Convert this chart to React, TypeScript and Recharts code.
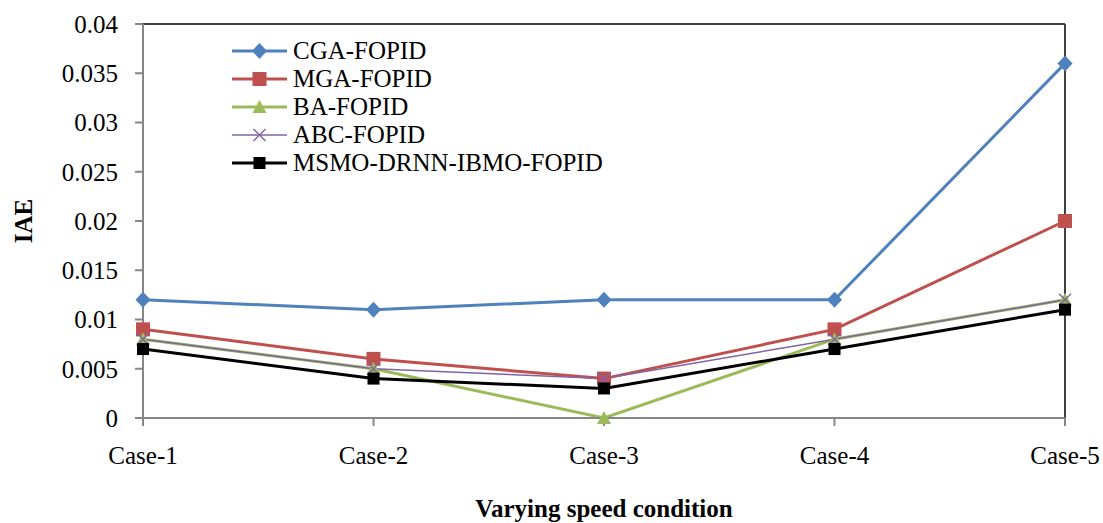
import React from "react";
import { LineChart, Line, XAxis, YAxis, Legend, Label, CartesianGrid } from "recharts";

// Speed-condition cases and IAE values per tuning method
const cases = ["Case-1", "Case-2", "Case-3", "Case-4", "Case-5"];
const cgaFopid = [0.012, 0.011, 0.012, 0.012, 0.036];
const mgaFopid = [0.009, 0.006, 0.004, 0.009, 0.02];
const baFopid = [0.008, 0.005, 0.0, 0.008, 0.012];
const abcFopid = [0.008, 0.005, 0.004, 0.008, 0.012];
const msmoFopid = [0.007, 0.004, 0.003, 0.007, 0.011];
const yTicks = [0, 0.005, 0.01, 0.015, 0.02, 0.025, 0.03, 0.035, 0.04];

const data = cases.map((c, i) => ({
  name: c,
  cga: cgaFopid[i],
  mga: mgaFopid[i],
  ba: baFopid[i],
  abc: abcFopid[i],
  msmo: msmoFopid[i],
}));

type Shape = "diamond" | "square" | "triangle" | "cross" | "smallSquare";

const series: { key: string; name: string; color: string; width: number; shape: Shape }[] = [
  { key: "cga", name: "CGA-FOPID", color: "#4F81BD", width: 3, shape: "diamond" },
  { key: "mga", name: "MGA-FOPID", color: "#C0504D", width: 3, shape: "square" },
  { key: "ba", name: "BA-FOPID", color: "#9BBB59", width: 3, shape: "triangle" },
  { key: "abc", name: "ABC-FOPID", color: "#8064A2", width: 1.5, shape: "cross" },
  { key: "msmo", name: "MSMO-DRNN-IBMO-FOPID", color: "#000000", width: 3, shape: "smallSquare" },
];

const FONT = "'Liberation Serif', 'Times New Roman', serif";

function Marker({ shape, color, cx, cy }: { shape: Shape; color: string; cx: number; cy: number }) {
  switch (shape) {
    case "diamond":
      return (
        <polygon
          points={`${cx},${cy - 8} ${cx + 7.5},${cy} ${cx},${cy + 8} ${cx - 7.5},${cy}`}
          fill={color}
        />
      );
    case "square":
      return <rect x={cx - 7} y={cy - 7} width={14} height={14} fill={color} />;
    case "triangle":
      return (
        <polygon
          points={`${cx},${cy - 7} ${cx + 7},${cy + 6} ${cx - 7},${cy + 6}`}
          fill={color}
        />
      );
    case "cross":
      return (
        <g stroke={color} strokeWidth={1.5}>
          <line x1={cx - 6} y1={cy - 6} x2={cx + 6} y2={cy + 6} />
          <line x1={cx - 6} y1={cy + 6} x2={cx + 6} y2={cy - 6} />
        </g>
      );
    default:
      return <rect x={cx - 6} y={cy - 6} width={12} height={12} fill={color} />;
  }
}

function LegendContent() {
  return (
    <div style={{ fontFamily: FONT, fontSize: 25, color: "#000" }}>
      {series.map((s) => (
        <div key={s.key} style={{ display: "flex", alignItems: "center", height: 28 }}>
          <svg width={61} height={28} style={{ display: "block" }}>
            <line x1={0} y1={14} x2={55} y2={14} stroke={s.color} strokeWidth={s.width} />
            <Marker shape={s.shape} color={s.color} cx={27.5} cy={14} />
          </svg>
          <span style={{ whiteSpace: "nowrap", lineHeight: "28px" }}>{s.name}</span>
        </div>
      ))}
    </div>
  );
}

export default function App() {
  return (
    <div style={{ padding: 8 }}>
      <style>{"html,body{margin:0;overflow:hidden;background:#fff}"}</style>
      <LineChart
        width={1095}
        height={515}
        data={data}
        margin={{ top: 16, right: 38, left: 0, bottom: 0 }}
      >
        {/* dark frame along the top and right edges of the plot area */}
        <CartesianGrid
          stroke="#404040"
          strokeWidth={2}
          horizontalCoordinatesGenerator={(p: any) => [p.offset.top]}
          verticalCoordinatesGenerator={(p: any) => [p.offset.left + p.offset.width]}
        />
        <XAxis
          dataKey="name"
          height={105}
          axisLine={{ stroke: "#868686", strokeWidth: 2 }}
          tickLine={{ stroke: "#868686", strokeWidth: 2 }}
          tickSize={8}
          tickMargin={20}
          tick={{ fill: "#000", fontFamily: FONT, fontSize: 25 }}
          interval={0}
        >
          <Label
            content={(props: any) => {
              const vb = props.viewBox || {};
              return (
                <text
                  x={vb.x + vb.width / 2}
                  y={vb.y + 99}
                  textAnchor="middle"
                  fontFamily={FONT}
                  fontSize={25}
                  fontWeight="bold"
                  fill="#000"
                >
                  Varying speed condition
                </text>
              );
            }}
          />
        </XAxis>
        <YAxis
          domain={[0, 0.04]}
          ticks={yTicks}
          width={135}
          axisLine={{ stroke: "#868686", strokeWidth: 2 }}
          tickLine={{ stroke: "#868686", strokeWidth: 2 }}
          tickSize={8}
          tickMargin={17}
          tick={{ fill: "#000", fontFamily: FONT, fontSize: 25 }}
          interval={0}
        >
          <Label
            content={(props: any) => {
              const vb = props.viewBox || {};
              const cx = 15;
              const cy = vb.y + vb.height / 2;
              return (
                <text
                  x={cx}
                  y={cy}
                  transform={`rotate(-90, ${cx}, ${cy})`}
                  textAnchor="middle"
                  dominantBaseline="central"
                  fontFamily={FONT}
                  fontSize={25}
                  fontWeight="bold"
                  fill="#000"
                >
                  IAE
                </text>
              );
            }}
          />
        </YAxis>
        <Legend
          layout="vertical"
          align="center"
          verticalAlign="middle"
          content={() => <LegendContent />}
          wrapperStyle={{ left: 224, top: 29, width: 420, height: 140 }}
        />
        {series.map((s) => (
          <Line
            key={s.key}
            type="linear"
            dataKey={s.key}
            name={s.name}
            stroke={s.color}
            strokeWidth={s.width}
            isAnimationActive={false}
            activeDot={false}
            dot={(p: any) => (
              <Marker key={`${s.key}-${p.index}`} shape={s.shape} color={s.color} cx={p.cx} cy={p.cy} />
            )}
          />
        ))}
      </LineChart>
    </div>
  );
}
